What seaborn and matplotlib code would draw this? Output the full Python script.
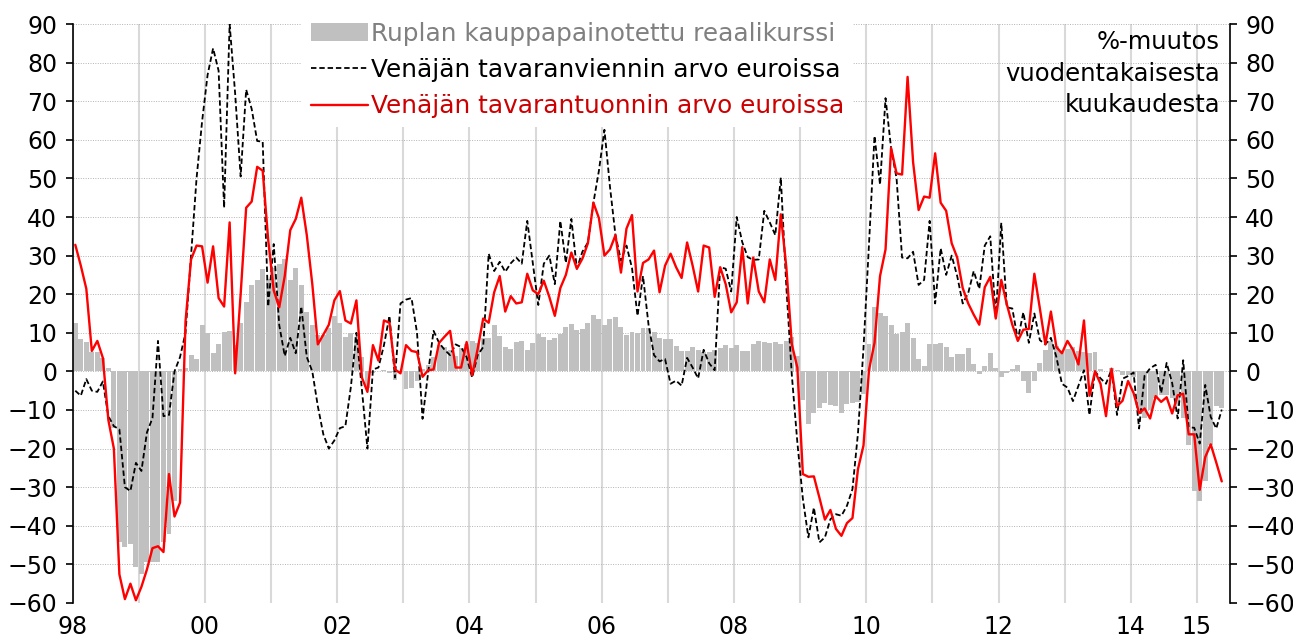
import numpy as np
import pandas as pd
import matplotlib
matplotlib.use("Agg")
import matplotlib.pyplot as plt
import seaborn as sns
from matplotlib.patches import Patch
from matplotlib.lines import Line2D

# kuukausittain 1998-01 ... 2015-05, %-muutos vuodentakaisesta kuukaudesta
reaalikurssi = [
    12.6, 8.4, 7.6, 5.0, 5.0, 3.5, 1.0, -14.7, -44.2, -45.6,
    -44.7, -50.8, -52.4, -49.5, -49.5, -49.5, -44.2, -42.1, -33.7, 0.5,
    1.0, 4.2, 3.2, 12.0, 10.0, 4.7, 7.0, 10.2, 10.5, 6.8,
    12.6, 17.9, 22.4, 23.7, 26.6, 24.0, 26.8, 27.7, 29.0, 23.7,
    26.8, 22.4, 15.5, 12.1, 9.5, 9.5, 11.3, 14.4, 12.6, 9.0,
    10.0, 9.0, 3.7, -4.2, -0.5, 0.0, 0.3, -0.3, -2.1, 0.0,
    -4.5, -4.2, -2.6, 0.5, 1.6, 3.7, 6.8, 6.3, 5.6, 3.9,
    6.0, 7.0, 7.9, 7.4, 8.7, 8.7, 12.1, 9.2, 6.3, 5.8,
    7.7, 7.9, 5.6, 7.4, 9.8, 9.0, 8.1, 8.7, 9.8, 11.6,
    12.4, 10.8, 11.0, 12.6, 14.7, 13.7, 12.1, 13.7, 14.0, 11.6,
    9.5, 10.2, 10.0, 11.3, 11.3, 10.2, 8.7, 8.4, 8.4, 6.6,
    5.3, 5.3, 6.3, 5.6, 5.0, 5.0, 5.6, 6.0, 6.8, 6.0,
    6.8, 5.3, 5.3, 7.2, 8.0, 7.7, 7.4, 7.6, 7.0, 8.0,
    9.0, 4.0, -7.5, -13.7, -10.7, -9.4, -8.1, -8.8, -9.0, -10.7,
    -8.5, -8.1, -7.9, -5.9, 7.0, 16.8, 15.0, 14.4, 11.9, 9.8,
    10.2, 12.6, 8.7, 3.2, 1.3, 7.0, 7.0, 7.4, 6.3, 3.7,
    4.4, 4.5, 6.0, 1.8, -0.7, 1.4, 4.7, 1.0, -1.4, -0.3,
    0.7, 1.6, -2.4, -5.6, -2.6, 2.1, 5.6, 7.9, 6.6, 5.0,
    5.8, 6.3, 5.3, 5.0, 4.7, 5.0, 0.5, 0.0, 1.0, 0.3,
    -1.0, -1.0, -1.5, -10.0, -12.0, -10.0, -7.0, -6.0, -6.0, -7.0,
    -9.0, -12.0, -19.0, -31.0, -33.5, -28.5, -19.0, -9.0, -9.5,
]

vienti = [
    -5.0, -6.3, -2.0, -5.0, -5.3, -2.6, -11.6, -14.2, -15.0, -30.0,
    -31.0, -23.7, -25.8, -15.8, -12.1, 7.9, -11.6, -11.3, 0.0, 3.7,
    10.0, 30.0, 50.0, 64.7, 76.8, 83.7, 77.9, 42.4, 90.0, 72.0,
    50.5, 73.0, 68.0, 59.7, 59.5, 16.8, 33.0, 12.0, 4.0, 8.7,
    4.7, 16.8, 3.7, 0.0, -9.0, -16.3, -20.0, -17.9, -14.7, -14.2,
    -4.0, 10.0, -4.7, -20.0, 0.5, 1.0, 6.8, 14.4, -1.6, 17.6,
    18.6, 19.0, 10.0, -12.3, -0.5, 10.5, 7.4, 5.6, 4.2, 7.0,
    6.3, 3.7, -1.6, 4.2, 6.3, 30.5, 26.0, 28.4, 25.8, 28.0,
    29.5, 27.9, 39.0, 28.0, 17.2, 27.9, 30.0, 22.6, 39.0, 28.1,
    39.5, 26.6, 31.0, 33.4, 43.7, 52.0, 62.6, 47.9, 35.3, 28.7,
    32.6, 26.8, 14.4, 24.7, 12.1, 4.2, 2.6, 3.2, -3.2, -2.4,
    -3.7, 3.5, 1.0, -1.8, 5.6, 2.1, 0.3, 27.0, 26.6, 20.7,
    40.0, 33.5, 29.6, 28.9, 29.0, 41.6, 38.6, 35.3, 50.2, 22.0,
    -1.0, -18.4, -33.0, -43.0, -35.3, -44.3, -43.0, -38.3, -37.0, -37.4,
    -34.8, -30.5, -16.0, 6.0, 33.0, 61.0, 48.4, 70.8, 57.9, 50.0,
    29.5, 29.3, 31.0, 22.4, 23.7, 39.0, 17.6, 31.9, 25.0, 30.0,
    24.7, 17.6, 20.3, 26.0, 21.4, 32.6, 35.0, 14.0, 38.5, 16.6,
    16.3, 8.2, 15.3, 7.4, 15.0, 8.1, 7.0, 8.7, 3.7, -3.2,
    -4.2, -7.7, -3.7, 0.3, -11.3, 0.0, -1.8, -3.2, 0.5, -11.3,
    -1.9, -1.2, -0.3, -14.8, -1.1, 0.8, 1.7, -5.6, 2.2, -3.0,
    -12.2, 2.9, -14.5, -14.6, -18.7, -3.5, -11.8, -14.8, -9.9,
]

tuonti = [
    32.8, 27.4, 21.4, 5.3, 7.9, 3.5, -12.6, -20.0, -52.6, -59.0,
    -55.0, -59.3, -55.8, -51.3, -45.8, -45.3, -46.8, -26.6, -37.6, -34.0,
    13.0, 29.0, 32.6, 32.4, 23.0, 32.4, 19.0, 16.8, 38.6, -0.5,
    20.0, 42.4, 44.0, 53.0, 52.0, 34.0, 21.0, 16.6, 24.7, 36.6,
    39.5, 45.0, 35.3, 22.6, 7.0, 9.5, 12.1, 18.4, 20.8, 13.2,
    12.4, 18.4, -1.6, -5.3, 6.8, 2.8, 13.2, 12.6, 0.5, -0.5,
    6.8, 5.3, 5.0, -1.4, 0.3, 0.5, 7.4, 9.0, 10.5, 1.0,
    1.0, 7.6, -1.0, 5.8, 13.7, 12.6, 20.5, 24.7, 15.5, 19.5,
    17.6, 17.9, 25.3, 21.0, 20.0, 23.5, 19.3, 14.4, 21.6, 25.0,
    30.8, 26.6, 29.2, 33.2, 43.7, 39.7, 30.0, 31.6, 35.3, 25.6,
    37.0, 40.5, 20.7, 28.1, 29.0, 31.3, 20.5, 27.4, 30.5, 27.0,
    24.2, 33.4, 27.4, 20.7, 32.6, 32.1, 19.3, 27.0, 22.6, 15.3,
    17.9, 32.2, 17.6, 29.5, 20.7, 17.9, 29.0, 23.7, 40.7, 27.0,
    7.0, 1.0, -26.6, -27.3, -27.2, -32.7, -38.4, -35.9, -40.8, -42.6,
    -39.3, -38.0, -25.3, -19.2, 0.4, 7.4, 24.7, 31.6, 57.9, 51.3,
    51.0, 76.3, 54.2, 41.8, 45.3, 45.0, 56.5, 43.7, 41.6, 33.2,
    29.5, 21.6, 17.6, 14.7, 12.1, 21.8, 24.5, 13.7, 23.7, 17.4,
    12.1, 7.9, 10.8, 11.0, 25.3, 16.3, 7.0, 15.5, 6.3, 4.7,
    7.9, 5.6, 1.8, 13.2, -6.3, 0.0, -3.2, -11.6, 0.7, -9.0,
    -7.6, -2.5, -5.6, -10.8, -9.6, -12.2, -6.4, -7.9, -6.7, -10.9,
    -6.2, -5.8, -16.3, -16.3, -30.7, -22.2, -18.9, -23.6, -28.5,
]

vuosi_labels = ['98', '', '00', '', '02', '', '04', '', '06', '', '08', '',
                '10', '', '12', '', '14', '15']

nimet = ['Ruplan kauppapainotettu reaalikurssi',
         'Venäjän tavaranviennin arvo euroissa',
         'Venäjän tavarantuonnin arvo euroissa']

df = pd.DataFrame({
    'kk': pd.date_range('1998-01-01', periods=len(tuonti), freq='MS'),
    'kurssi': reaalikurssi,
    'vienti': vienti,
    'tuonti': tuonti,
})
# kuukausi kategorian keskelle, vuosi = 12 yksikköä
df['x'] = np.arange(len(df)) + 0.5

sns.set_theme(style="white")
plt.rcParams['font.family'] = ['DejaVu Sans']

fig, ax = plt.subplots(figsize=(12.93, 6.37), dpi=100)
fig.subplots_adjust(left=0.0561, right=0.9513, top=0.9623, bottom=0.0534)

sns.barplot(data=df, x='x', y='kurssi', native_scale=True, color='#c0c0c0',
            saturation=1, width=0.9, errorbar=None, linewidth=0,
            edgecolor='none', ax=ax, zorder=2)
sns.lineplot(data=df, x='x', y='vienti', color='black', lw=1.3,
             linestyle=(0, (3, 1.6)), ax=ax, zorder=3)
sns.lineplot(data=df, x='x', y='tuonti', color='red', lw=1.7, ax=ax, zorder=4)

ax.set_xlim(0, 210)
ax.set_ylim(-60, 90)
ax.set_yticks(range(-60, 91, 10))
ax.set_xticks(np.arange(0, 210, 12))
ax.set_xticklabels(vuosi_labels)
ax.set_xlabel('')
ax.set_ylabel('')

ax.set_axisbelow(True)
ax.xaxis.grid(True, color='#d9d9d9', lw=1.5, linestyle='-')
ax.yaxis.grid(True, color='#b3b3b3', lw=0.7, linestyle=(0, (1, 1.5)))

for s in ['top', 'bottom']:
    ax.spines[s].set_visible(False)
for s in ['left', 'right']:
    ax.spines[s].set_color('black')
    ax.spines[s].set_linewidth(1.2)

ax.tick_params(axis='y', left=True, right=True, labelleft=True, labelright=True,
               direction='out', length=5, width=1.2, colors='black',
               labelsize=17, pad=6)
ax.tick_params(axis='x', length=0, pad=9, labelsize=17, colors='black')

handles = [Patch(facecolor='#c0c0c0', edgecolor='none'),
           Line2D([], [], color='black', lw=1.3, linestyle=(0, (3, 1.6))),
           Line2D([], [], color='red', lw=1.7)]
leg = ax.legend(handles, nimet, loc='upper left',
                bbox_to_anchor=(302 / 1293, 1 - 13 / 637),
                bbox_transform=fig.transFigure, frameon=True, fancybox=False,
                edgecolor='none', facecolor='white', framealpha=1,
                fontsize=17.8, handlelength=2.3, handletextpad=0.15,
                borderpad=0.35, labelspacing=0.5, borderaxespad=0)
for t, c in zip(leg.get_texts(), ['#808080', 'black', '#cc0000']):
    t.set_color(c)

fig.text(1220 / 1293, 1 - 30 / 637, '%-muutos\nvuodentakaisesta\nkuukaudesta',
         ha='right', va='top', fontsize=17.5, linespacing=1.4, color='black')

fig.savefig('out.png', dpi=100)
